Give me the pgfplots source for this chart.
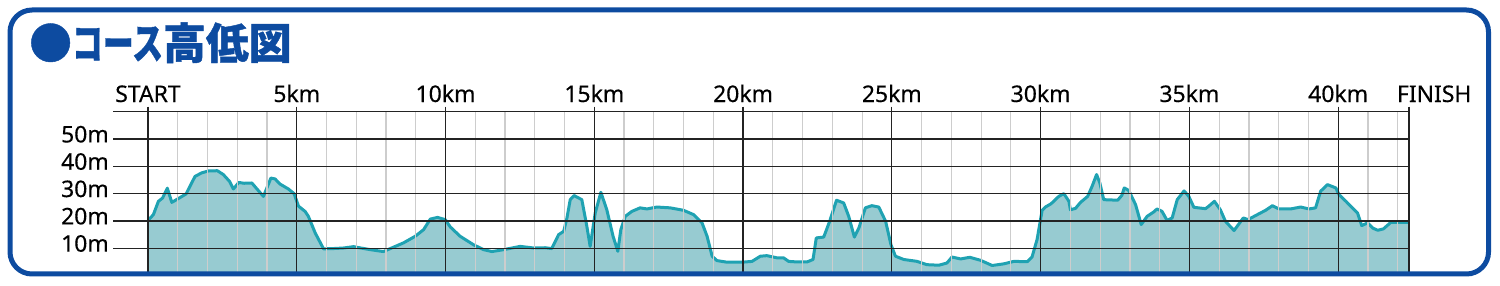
\documentclass[border=0pt]{standalone}
\usepackage{graphicx}
\usepackage{pgfplots}
\pgfplotsset{compat=1.18}
\usepackage{pgfplotstable}
\usepackage{fontspec}
\setmainfont{Noto Sans}[FakeBold=0.3]
\newfontfamily\cjk{Noto Sans CJK JP}[BoldFeatures={FakeBold=1}]
\definecolor{frameblue}{RGB}{13,75,160}
\definecolor{profline}{RGB}{31,162,178}
\definecolor{proffill}{RGB}{151,203,209}
\definecolor{minorgray}{RGB}{205,205,205}
\definecolor{gridgray}{RGB}{35,35,35}

\pgfplotstableread{
km m
0 20.2
0.18 22.3
0.35 27.2
0.49 28.4
0.65 32
0.8 26.8
1.05 28.4
1.28 29.9
1.41 32.7
1.58 36.3
1.80 37.6
2.03 38.3
2.33 38.4
2.53 37
2.74 34.5
2.87 31.7
3.05 34.1
3.23 33.8
3.49 33.9
3.68 31.5
3.88 29
4.13 35.7
4.27 35.4
4.44 33.5
4.72 31.7
4.91 30
5.06 25.4
5.28 23.5
5.39 21.7
5.62 15.6
5.90 9.8
6.23 9.9
6.57 10.1
6.91 10.6
7.05 10.3
7.47 9.5
7.91 8.8
8.25 10.4
8.59 12
8.98 14.4
9.26 16.8
9.49 20.7
9.73 21.3
9.99 20.5
10.16 17.8
10.49 14.4
10.94 11.3
11.28 9.5
11.56 8.8
11.95 9.5
12.51 10.7
12.96 10.1
13.35 10.2
13.57 9.9
13.80 15
13.97 16.2
14.08 21.1
14.19 27.8
14.32 29.3
14.58 27.8
14.75 18
14.86 10.7
15.03 22.9
15.22 30.5
15.42 24.1
15.63 14.4
15.79 8.9
15.89 16.8
16.04 21.7
16.26 23.5
16.54 24.8
16.77 24.4
17.10 25.1
17.55 24.8
18.00 23.9
18.34 22.3
18.62 19.3
18.79 14.4
18.96 7.1
19.12 5.5
19.46 4.9
19.96 4.9
20.30 5.2
20.58 7.1
20.80 7.3
21.14 6.5
21.36 6.5
21.53 5.2
21.81 5
22.15 5
22.35 5.9
22.46 13.8
22.71 14.1
22.91 19.9
23.14 27.6
23.38 26.6
23.55 21.7
23.74 14.1
23.89 17.4
24.11 24.8
24.33 25.6
24.56 25.1
24.79 19.9
24.97 11.3
25.12 7.1
25.40 5.9
25.85 5.2
26.18 4
26.58 3.8
26.85 4.6
27.02 6.8
27.31 6.1
27.62 6.7
27.98 5.6
28.37 3.7
28.76 4.3
29.10 5.2
29.55 5.1
29.71 6.8
29.88 13.2
30.05 23.9
30.16 25.1
30.35 26.3
30.61 29
30.78 30
30.95 27.2
31.00 24.1
31.17 24.6
31.34 26.8
31.58 29
31.73 32.7
31.88 37
31.99 33.9
32.12 27.8
32.59 27.6
32.73 29.4
32.81 32.1
32.96 31.2
33.19 26
33.38 18.7
33.58 21.7
33.80 23.3
33.91 24.4
34.08 23.5
34.25 20.2
34.42 21.1
34.59 27.8
34.82 31
34.98 29
35.15 25.0
35.30 24.8
35.54 24.5
35.65 25.4
35.84 27.2
36.04 24.1
36.21 19.9
36.50 16.5
36.81 21.1
36.97 20.5
37.28 22.3
37.56 23.9
37.79 25.6
38.01 24.4
38.40 24.4
38.74 25.1
39.02 24.4
39.24 24.8
39.41 30.9
39.64 33.3
39.92 32.1
40.03 29.6
40.26 27.2
40.65 22.9
40.79 18.3
40.99 19.3
41.16 17.4
41.33 16.6
41.52 17.1
41.77 19.5
42.38 19.5
}\profile

\begin{document}
\begin{tikzpicture}
\path[use as bounding box] (0bp,0bp) rectangle (1500bp,286bp);
\begin{axis}[
  axis on top,
  at={(148bp,10.4bp)}, anchor=south west,
  scale only axis, width=1261bp, height=163.9bp,
  xmin=0, xmax=42.38, ymin=0, ymax=60,
  clip=false,
  axis line style={gridgray, line width=1.2bp},
  xtick={0,5,10,15,20,25,30,35,40,42.38},
  xticklabels={START,5km,10km,15km,20km,25km,30km,35km,40km,{\makebox[0pt][l]{\hspace{-12bp}FINISH}}},
  minor xtick={1,2,3,4,6,7,8,9,11,12,13,14,16,17,18,19,21,22,23,24,26,27,28,29,31,32,33,34,36,37,38,39,41,42},
  ytick={10,20,30,40,50,60},
  yticklabels={10m,20m,30m,40m,50m,{}},
  xtick pos=right, xticklabel pos=right, ytick pos=left,
  tick align=outside, major tick length=5bp, minor tick length=0pt,
  tick style={gridgray, line width=1.2bp},
  grid=both,
  major grid style={gridgray, line width=1.2bp},
  minor grid style={minorgray, line width=1.2bp},
  tick label style={font=\fontsize{23}{27}\selectfont},
  xticklabel style={anchor=base, inner sep=0pt, yshift=4.7bp},
  yticklabel style={anchor=base east, inner sep=0pt, xshift=-34bp, yshift=-3.4bp},
]
\addplot[fill=proffill, draw=none] table[x=km, y=m] {\profile} \closedcycle;
\addplot[profline, line width=3bp, line join=round] table[x=km, y=m] {\profile};
\pgfplotsinvokeforeach{10,20,30,40,50,60}{
  \draw[gridgray, line width=1.2bp] ([xshift=-35bp]axis cs:0,#1) -- (axis cs:0,#1);
}
\end{axis}
\draw[frameblue, line width=5bp, rounded corners=22bp] (10bp,12bp) rectangle (1488.5bp,276bp);
\node[anchor=base west, inner sep=0pt, text=frameblue, font=\cjk\bfseries\fontsize{43}{50}\selectfont] at (29bp,227bp) {●\scalebox{0.72}[1]{コース}高低図};
\end{tikzpicture}
\end{document}
